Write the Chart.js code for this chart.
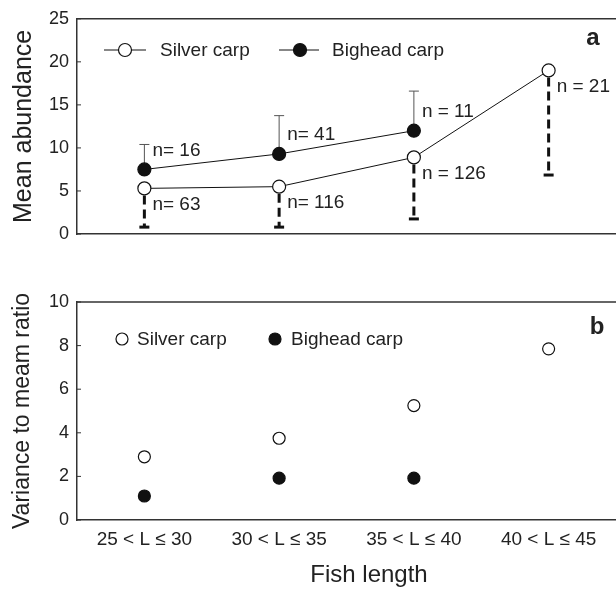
<!DOCTYPE html>
<html>
<head>
<meta charset="utf-8">
<script src="https://cdn.jsdelivr.net/npm/chart.js@4/dist/chart.umd.min.js"></script>
<style>
  html, body { margin: 0; padding: 0; background: #fff; }
  #wrap { position: relative; width: 616px; height: 592px; overflow: hidden; }
  #abundanceChart { position: absolute; left: 0; top: 0; }
  #ratioChart { position: absolute; left: 0; top: 270px; }
</style>
</head>
<body>
<div id="wrap">
  <canvas id="abundanceChart" width="616" height="255"></canvas>
  <canvas id="ratioChart" width="616" height="322"></canvas>
</div>
<script>
// data
const lengthClasses = ['25 < L ≤ 30', '30 < L ≤ 35', '35 < L ≤ 40', '40 < L ≤ 45'];

// panel a - mean abundance
const silverMean = [5.3, 5.5, 8.9, 19.0];
const bigheadMean = [7.5, 9.3, 12.0, null];
const silverLower = [0.8, 0.8, 1.75, 6.85];   // dashed bars, downwards
const bigheadUpper = [10.4, 13.75, 16.6, null]; // thin bars, upwards
const silverNLabels = ['n= 63', 'n= 116', 'n = 126', 'n = 21'];
const bigheadNLabels = ['n= 16', 'n= 41', 'n = 11', null];

// panel b - variance to mean ratio
const silverRatio = [2.9, 3.75, 5.25, 7.85];
const bigheadRatio = [1.1, 1.92, 1.92, null];

const FONT = '"Liberation Sans", Arial, Helvetica, sans-serif';
const INK = '#222';
const AXIS = '#333';

Chart.defaults.font.family = FONT;
Chart.defaults.color = INK;

// frame: top line + small inward ticks on the y axis
const framePlugin = {
    id: 'frame',
    afterDraw(chart) {
        const { ctx, chartArea: a, scales } = chart;
        ctx.save();
        ctx.strokeStyle = AXIS;
        ctx.lineWidth = 1.5;
        ctx.beginPath();
        ctx.moveTo(a.left, a.top);
        ctx.lineTo(a.right, a.top);
        ctx.stroke();
        ctx.lineWidth = 1;
        scales.y.ticks.forEach(t => {
            const y = scales.y.getPixelForValue(t.value);
            ctx.beginPath();
            ctx.moveTo(a.left, y);
            ctx.lineTo(a.left + 4, y);
            ctx.stroke();
        });
        ctx.restore();
    }
};

function drawCircle(ctx, x, y, r, filled) {
    ctx.beginPath();
    ctx.arc(x, y, r, 0, Math.PI * 2);
    ctx.fillStyle = filled ? '#111' : '#fff';
    ctx.fill();
    ctx.lineWidth = 1.2;
    ctx.strokeStyle = '#111';
    ctx.stroke();
}

// error bars, n labels, legend and panel letter for panel a
const abundanceExtras = {
    id: 'abundanceExtras',
    beforeDatasetsDraw(chart) {
        const { ctx, scales: { x, y } } = chart;
        ctx.save();
        // silver carp: thick dashed bar going down
        silverLower.forEach((v, i) => {
            if (v == null) return;
            const px = x.getPixelForValue(i);
            const top = y.getPixelForValue(silverMean[i]);
            const bot = y.getPixelForValue(v);
            ctx.strokeStyle = '#111';
            ctx.lineWidth = 3;
            ctx.setLineDash([9, 5]);
            ctx.beginPath();
            ctx.moveTo(px, top + 7);
            ctx.lineTo(px, bot);
            ctx.stroke();
            ctx.setLineDash([]);
            ctx.beginPath();
            ctx.moveTo(px - 5, bot);
            ctx.lineTo(px + 5, bot);
            ctx.stroke();
        });
        // bighead carp: thin bar going up
        bigheadUpper.forEach((v, i) => {
            if (v == null) return;
            const px = x.getPixelForValue(i);
            const bot = y.getPixelForValue(bigheadMean[i]);
            const top = y.getPixelForValue(v);
            ctx.strokeStyle = '#555';
            ctx.lineWidth = 1;
            ctx.beginPath();
            ctx.moveTo(px, bot);
            ctx.lineTo(px, top);
            ctx.moveTo(px - 5, top);
            ctx.lineTo(px + 5, top);
            ctx.stroke();
        });
        ctx.restore();
    },
    afterDraw(chart) {
        const { ctx, scales: { x, y } } = chart;
        ctx.save();
        ctx.fillStyle = INK;
        ctx.font = '19px ' + FONT;
        ctx.textBaseline = 'middle';
        ctx.textAlign = 'left';
        silverNLabels.forEach((t, i) => {
            if (!t) return;
            ctx.fillText(t, x.getPixelForValue(i) + 8, y.getPixelForValue(silverMean[i]) + 16);
        });
        bigheadNLabels.forEach((t, i) => {
            if (!t) return;
            ctx.fillText(t, x.getPixelForValue(i) + 8, y.getPixelForValue(bigheadMean[i]) - 19);
        });

        // legend
        ctx.strokeStyle = '#111';
        ctx.lineWidth = 1;
        ctx.beginPath();
        ctx.moveTo(104, 50); ctx.lineTo(146, 50);
        ctx.moveTo(279, 50); ctx.lineTo(319, 50);
        ctx.stroke();
        drawCircle(ctx, 125, 50, 6.5, false);
        drawCircle(ctx, 300, 50, 6.5, true);
        ctx.fillStyle = INK;
        ctx.font = '19px ' + FONT;
        ctx.fillText('Silver carp', 160, 51);
        ctx.fillText('Bighead carp', 332, 51);

        ctx.font = 'bold 24px ' + FONT;
        ctx.textAlign = 'center';
        ctx.fillText('a', 593, 38);
        ctx.restore();
    }
};

const ratioExtras = {
    id: 'ratioExtras',
    afterDraw(chart) {
        const { ctx } = chart;
        ctx.save();
        drawCircle(ctx, 122, 69, 6, false);
        drawCircle(ctx, 275, 69, 6, true);
        ctx.fillStyle = INK;
        ctx.font = '19px ' + FONT;
        ctx.textBaseline = 'middle';
        ctx.textAlign = 'left';
        ctx.fillText('Silver carp', 137, 70);
        ctx.fillText('Bighead carp', 291, 70);
        ctx.font = 'bold 24px ' + FONT;
        ctx.textAlign = 'center';
        ctx.fillText('b', 597, 57);
        // x axis title sits right of centre in the original
        ctx.font = '24px ' + FONT;
        ctx.fillText('Fish length', 369, 305);
        ctx.restore();
    }
};

function pointSet(label, data, filled, radius, showLine) {
    return {
        label: label,
        data: data,
        showLine: showLine,
        borderColor: '#111',
        borderWidth: 1,
        pointRadius: radius,
        pointHoverRadius: radius,
        pointBorderWidth: 1.2,
        pointBorderColor: '#111',
        pointBackgroundColor: filled ? '#111' : '#fff',
        spanGaps: false
    };
}

function yAxis(max, step, title, titleSize) {
    return {
        min: 0,
        max: max,
        afterFit(scale) { scale.width = 77; },
        ticks: { stepSize: step, padding: 8, font: { size: 18 }, color: INK },
        grid: { display: false, drawTicks: false },
        border: { display: true, color: AXIS, width: 1.5 },
        title: { display: true, text: title, font: { size: titleSize }, color: INK, padding: { top: 9, bottom: 0 } }
    };
}

new Chart(document.getElementById('abundanceChart'), {
    type: 'line',
    data: {
        labels: lengthClasses,
        datasets: [
            pointSet('Silver carp', silverMean, false, 6.5, true),
            pointSet('Bighead carp', bigheadMean, true, 6.5, true)
        ]
    },
    options: {
        responsive: false,
        animation: false,
        layout: { autoPadding: false, padding: { top: 16, bottom: 21, left: 0, right: 0 } },
        plugins: { legend: { display: false }, tooltip: { enabled: false } },
        scales: {
            x: {
                offset: true,
                afterFit(scale) { scale.height = 0; },
                ticks: { display: false },
                grid: { display: false, drawTicks: false },
                border: { display: true, color: AXIS, width: 1.5 }
            },
            y: yAxis(25, 5, 'Mean abundance', 25)
        }
    },
    plugins: [framePlugin, abundanceExtras]
});

new Chart(document.getElementById('ratioChart'), {
    type: 'line',
    data: {
        labels: lengthClasses,
        datasets: [
            pointSet('Silver carp', silverRatio, false, 6, false),
            pointSet('Bighead carp', bigheadRatio, true, 6, false)
        ]
    },
    options: {
        responsive: false,
        animation: false,
        layout: { autoPadding: false, padding: { top: 32, bottom: 0, left: 0, right: 0 } },
        plugins: { legend: { display: false }, tooltip: { enabled: false } },
        scales: {
            x: {
                offset: true,
                afterFit(scale) { scale.height = 72; },
                ticks: { padding: 8, font: { size: 19 }, color: INK, maxRotation: 0 },
                grid: { display: false, drawTicks: false },
                border: { display: true, color: AXIS, width: 1.5 }
            },
            y: yAxis(10, 2, 'Variance to meam ratio', 23)
        }
    },
    plugins: [framePlugin, ratioExtras]
});
</script>
</body>
</html>
